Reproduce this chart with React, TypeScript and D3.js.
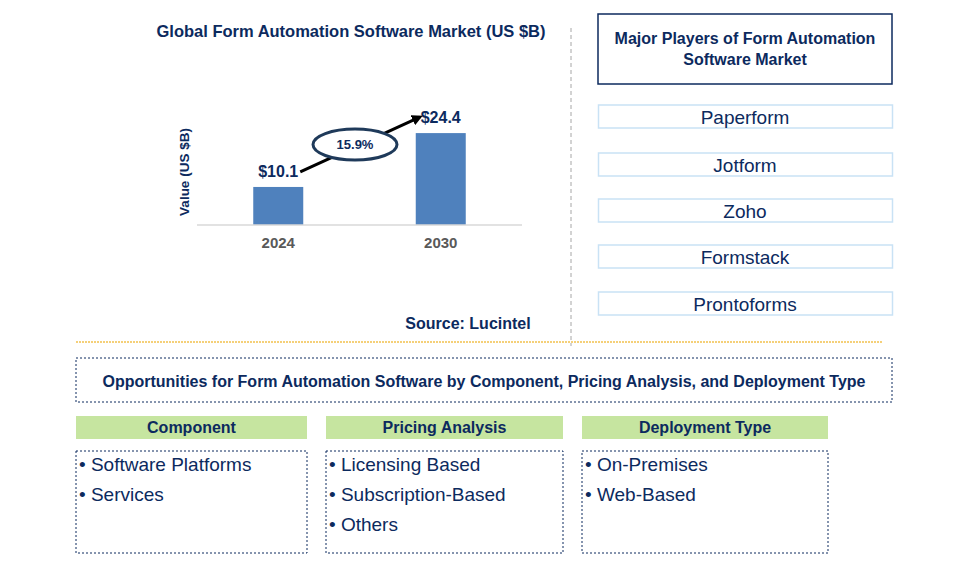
import React from "react";
import { scaleLinear, scalePoint } from "d3";

const years = ["2024", "2030"];
const values = [10.1, 24.4];
const valueLabels = ["$10.1", "$24.4"];
const cagr = "15.9%";
const players = ["Paperform", "Jotform", "Zoho", "Formstack", "Prontoforms"];
const segments = ["Component", "Pricing Analysis", "Deployment Type"];
const segmentItems = [
	["Software Platforms", "Services"],
	["Licensing Based", "Subscription-Based", "Others"],
	["On-Premises", "Web-Based"]
];

const NAVY = "#0c2a5e";
const FONT = "'Liberation Sans', Arial, sans-serif";

export default function App() {
	// chart area
	const plot = { left: 197, right: 522, base: 225 };
	const xScale = scalePoint<string>()
		.domain(years)
		.range([plot.left, plot.right])
		.padding(0.5);
	const yScale = scaleLinear().domain([0, 30]).range([plot.base, plot.base - 113]);
	const barW = 50;

	const x0 = xScale(years[0])!;
	const x1 = xScale(years[1])!;
	const arrowStart = { x: x0 + 22, y: yScale(values[0]) - 15 };
	const arrowEnd = { x: x1 - 21, y: yScale(values[1]) - 16 };
	const mid = { x: (arrowStart.x + arrowEnd.x) / 2 - 5, y: (arrowStart.y + arrowEnd.y) / 2 };

	// right panel boxes
	const playerY = [105, 153, 199, 245, 292];
	const segX = [76, 326, 582];
	const segW = [231, 237, 246];

	return (
		<svg width={957} height={575} style={{ position: "absolute", left: 0, top: 0 }} fontFamily={FONT}>
			<defs>
				<marker id="arrowHead" viewBox="0 0 10 10" refX="7" refY="5" markerWidth="3.6" markerHeight="3.6" orient="auto">
					<path d="M0,0 L10,5 L0,10 z" fill="#000" />
				</marker>
			</defs>
			<rect width={957} height={575} fill="#fff" />

			{/* chart title */}
			<text x={351} y={37} textAnchor="middle" fontSize={16.5} fontWeight="bold" fill={NAVY}>
				Global Form Automation Software Market (US $B)
			</text>

			{/* y axis title */}
			<text
				transform={`translate(189,172) rotate(-90)`}
				textAnchor="middle"
				fontSize={13.5}
				fontWeight="bold"
				fill={NAVY}
			>
				Value (US $B)
			</text>

			{/* bars */}
			{years.map((yr, i) => (
				<g key={yr}>
					<rect
						x={xScale(yr)! - barW / 2}
						y={yScale(values[i])}
						width={barW}
						height={plot.base - yScale(values[i])}
						fill="#4f81bd"
					/>
					<text x={xScale(yr)!} y={yScale(values[i]) - 10} textAnchor="middle" fontSize={16} fontWeight="bold" fill={NAVY}>
						{valueLabels[i]}
					</text>
					<text x={xScale(yr)!} y={247.5} textAnchor="middle" fontSize={15} fontWeight="bold" fill="#595959">
						{yr}
					</text>
				</g>
			))}
			<line x1={plot.left} x2={plot.right} y1={plot.base} y2={plot.base} stroke="#d9d9d9" strokeWidth={1.5} />

			{/* growth arrow */}
			<line
				x1={arrowStart.x}
				y1={arrowStart.y}
				x2={arrowEnd.x}
				y2={arrowEnd.y}
				stroke="#000"
				strokeWidth={3}
				markerEnd="url(#arrowHead)"
			/>
			<ellipse cx={mid.x} cy={mid.y} rx={42} ry={15.5} fill="#fff" stroke="#1f3a5a" strokeWidth={3} />
			<text x={mid.x} y={mid.y + 4.5} textAnchor="middle" fontSize={13} fontWeight="bold" fill={NAVY}>
				{cagr}
			</text>

			<text x={468} y={328.5} textAnchor="middle" fontSize={16} fontWeight="bold" fill={NAVY}>
				Source: Lucintel
			</text>

			{/* dividers */}
			<line x1={571} x2={571} y1={28} y2={346} stroke="#a6a6a6" strokeWidth={1} strokeDasharray="4,3" />
			<line x1={76} x2={882} y1={342} y2={342} stroke="#f2c14e" strokeWidth={1.5} strokeDasharray="2,1" />

			{/* major players */}
			<rect x={598} y={14} width={294} height={70} fill="#fff" stroke={NAVY} strokeWidth={1.5} />
			<text x={745} y={44} textAnchor="middle" fontSize={16} fontWeight="bold" fill={NAVY}>
				Major Players of Form Automation
			</text>
			<text x={745} y={65} textAnchor="middle" fontSize={16} fontWeight="bold" fill={NAVY}>
				Software Market
			</text>
			{players.map((p, i) => (
				<g key={p}>
					<rect x={598.5} y={playerY[i]} width={294} height={23} fill="#fff" stroke="#c9e2f5" strokeWidth={1.5} />
					<text x={745} y={playerY[i] + 18.5} textAnchor="middle" fontSize={19} fill={NAVY}>
						{p}
					</text>
				</g>
			))}

			{/* opportunities */}
			<rect x={76} y={358} width={816} height={44} fill="#fff" stroke={NAVY} strokeWidth={1} strokeDasharray="2,2" />
			<text x={484} y={386.5} textAnchor="middle" fontSize={16} fontWeight="bold" fill={NAVY}>
				Opportunities for Form Automation Software by Component, Pricing Analysis, and Deployment Type
			</text>

			{segments.map((s, i) => (
				<g key={s}>
					<rect x={segX[i]} y={416} width={segW[i]} height={23} fill="#c6e5a0" />
					<text x={segX[i] + segW[i] / 2} y={433} textAnchor="middle" fontSize={16} fontWeight="bold" fill={NAVY}>
						{s}
					</text>
					<rect x={segX[i]} y={451} width={segW[i]} height={102} fill="#fff" stroke={NAVY} strokeWidth={1} strokeDasharray="2,2" />
					{segmentItems[i].map((item, j) => (
						<text key={item} x={segX[i] + 3} y={471 + j * 30} fontSize={19} fill={NAVY}>
							{"\u2022 " + item}
						</text>
					))}
				</g>
			))}
		</svg>
	);
}
